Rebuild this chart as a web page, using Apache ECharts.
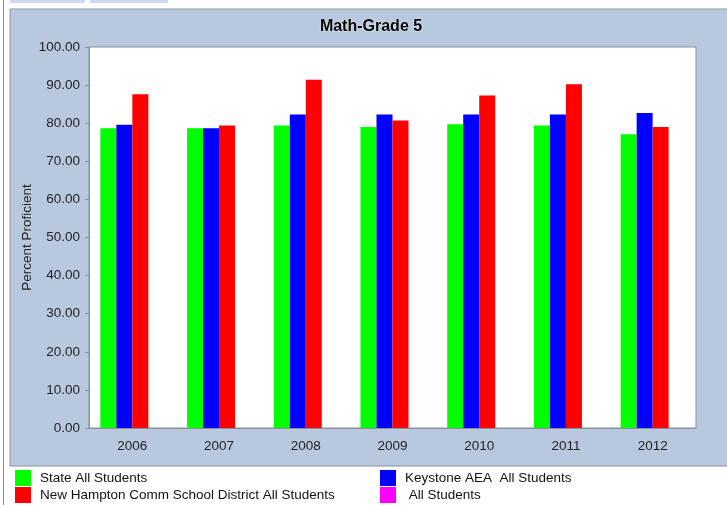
<!DOCTYPE html>
<html>
<head>
<meta charset="utf-8">
<script src="https://cdn.jsdelivr.net/npm/echarts@6/dist/echarts.min.js"></script>
<style>
  html, body { margin: 0; padding: 0; background: #ffffff; }
  #chart { width: 727px; height: 505px; }
</style>
</head>
<body>
<div id="chart"></div>
<script>
// Math-Grade 5: percent proficient by year
const years = ['2006', '2007', '2008', '2009', '2010', '2011', '2012'];
const stateAll = [78.7, 78.7, 79.4, 79.0, 79.7, 79.4, 77.1];
const keystoneAll = [79.6, 78.7, 82.3, 82.3, 82.3, 82.3, 82.7];
const newHamptonAll = [87.6, 79.4, 91.4, 80.7, 87.3, 90.2, 79.0];
const allStudents = [null, null, null, null, null, null, null];

const seriesNames = [
  'State All Students',
  'Keystone AEA  All Students',
  'New Hampton Comm School District All Students',
  ' All Students'
];
const seriesColors = ['#00ff00', '#0000ff', '#ff0000', '#ff00ff'];
const seriesData = [stateAll, keystoneAll, newHamptonAll, allStudents];

const yTicks = { min: 0, max: 100, interval: 10 };

const font = 'Arial, "Liberation Sans", sans-serif';
const textSize = 13.5;
const chart = echarts.init(document.getElementById('chart'), null, { renderer: 'canvas' });

const legendCommon = {
  orient: 'vertical',
  top: 470,
  icon: 'rect',
  itemWidth: 16,
  itemHeight: 16,
  itemGap: 1,
  selectedMode: false,
  textStyle: { fontFamily: font, fontSize: 13.5, color: '#111', padding: [0, 0, 0, 4] },
  padding: 0
};

chart.setOption({
  animation: false,
  backgroundColor: '#ffffff',
  graphic: [
    // tabs along the top edge
    { type: 'rect', shape: { x: 10, y: 0, width: 75, height: 3 }, style: { fill: '#d4d4f6' } },
    { type: 'rect', shape: { x: 90, y: 0, width: 78, height: 3 }, style: { fill: '#d4d4f6' } },
    // left rule
    { type: 'rect', shape: { x: 3, y: 0, width: 1, height: 505 }, style: { fill: '#8c8c8c' } },
    // chart panel
    { type: 'rect', z: -10, shape: { x: 10, y: 9, width: 720, height: 457 },
      style: { fill: '#b8c9df', stroke: '#8e959e', lineWidth: 1 } },
    { type: 'text', z: 10, style: {
        text: 'Math-Grade 5', x: 371, y: 27, fill: '#000', font: 'bold 16px ' + font,
        textAlign: 'center', textVerticalAlign: 'middle',
        textShadowColor: 'rgba(255,255,255,0.9)', textShadowBlur: 2
      } }
  ],
  grid: {
    left: 89, top: 47, right: 31, bottom: 77,
    show: true, backgroundColor: '#ffffff', borderColor: '#8a9099', borderWidth: 1
  },
  legend: [
    Object.assign({}, legendCommon, { left: 15, data: [seriesNames[0], seriesNames[2]] }),
    Object.assign({}, legendCommon, { left: 380, data: [seriesNames[1], seriesNames[3]] })
  ],
  xAxis: {
    type: 'category',
    data: years,
    axisLine: { lineStyle: { color: '#8a9099' } },
    axisTick: { alignWithLabel: true, length: 4, lineStyle: { color: '#8a9099' } },
    axisLabel: { fontFamily: font, fontSize: textSize, color: '#222', margin: 11 },
    splitLine: { show: false }
  },
  yAxis: {
    type: 'value',
    min: yTicks.min, max: yTicks.max, interval: yTicks.interval,
    name: 'Percent Proficient',
    nameLocation: 'middle',
    nameRotate: 90,
    nameGap: 55,
    nameMoveOverlap: false,
    nameTextStyle: { fontFamily: font, fontSize: textSize, color: '#222' },
    axisLine: { show: true, lineStyle: { color: '#8a9099' } },
    axisTick: { show: true, length: 4, lineStyle: { color: '#8a9099' } },
    axisLabel: { fontFamily: font, fontSize: textSize, color: '#222', margin: 9,
      formatter: v => v.toFixed(2) },
    splitLine: { show: false }
  },
  series: seriesData.map((d, i) => ({
    name: seriesNames[i],
    type: 'bar',
    data: d,
    barWidth: 16,
    barGap: '0%',
    itemStyle: { color: seriesColors[i] }
  }))
});
</script>
</body>
</html>
